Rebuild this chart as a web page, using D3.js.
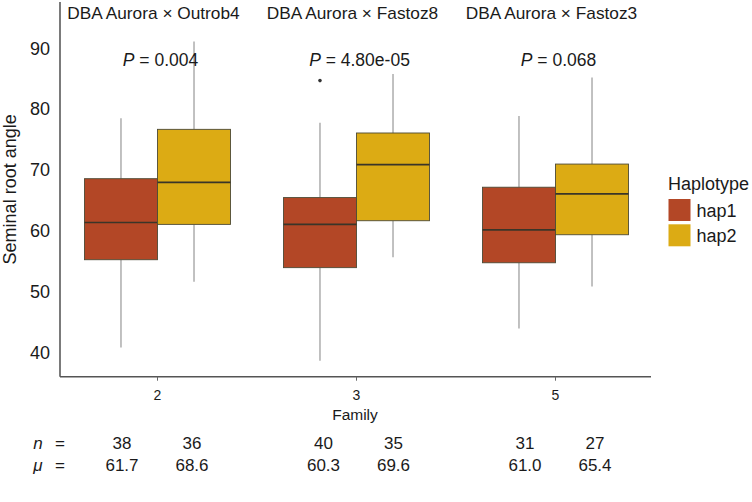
<!DOCTYPE html>
<html><head><meta charset="utf-8">
<script src="https://cdn.jsdelivr.net/npm/d3@7"></script>
<style>body{margin:0;background:#fff}svg{font-family:"Liberation Sans",Arial,sans-serif}</style>
</head><body><svg id="c" width="752" height="502"></svg>
<script>
const families = ["2","3","5"];
const crosses = ["DBA Aurora × Outrob4","DBA Aurora × Fastoz8","DBA Aurora × Fastoz3"];
const pvalues = ["0.004","4.80e-05","0.068"];
const haplotypes = ["hap1","hap2"];
// [whiskerLow, q1, median, q3, whiskerHigh] per family, per haplotype
const hap1Stats = [[40.9,55.3,61.4,68.6,78.5],[38.7,54.0,61.1,65.5,77.8],[44.0,54.8,60.2,67.2,78.9]];
const hap2Stats = [[51.7,61.1,68.0,76.7,91.1],[55.7,61.7,70.9,76.1,85.8],[50.9,59.4,66.1,71.0,85.2]];
const outliers = [{fam:"3",hap:"hap1",v:84.7}];
const nValues = [[38,36],[40,35],[31,27]];
const muValues = [["61.7","68.6"],["60.3","69.6"],["61.0","65.4"]];
const yTicks = [40,50,60,70,80,90];
const colors = {hap1:"#B34726", hap2:"#DCAB14"};

const svg = d3.select("#c");
const y = d3.scaleLinear().domain([36.1,97.6]).range([376.7,2]);
const x = d3.scaleBand().domain(families).range([58,655]).padding(0);
const bw = x.bandwidth();
const xi = d3.scaleBand().domain(haplotypes).range([-bw*0.367, bw*0.367]);
const stroke = "#4d4a35";
const ink = "#1a1a1a";

// axes
svg.append("line").attr("x1",60).attr("x2",60).attr("y1",y.range()[1]).attr("y2",y.range()[0]).attr("stroke","#333").attr("stroke-width",1.3);
svg.append("line").attr("x1",60).attr("x2",651).attr("y1",y.range()[0]).attr("y2",y.range()[0]).attr("stroke","#555").attr("stroke-width",1.5);
const ya = svg.append("g").attr("transform","translate(60,0)").call(d3.axisLeft(y).tickValues(yTicks).tickSize(0).tickPadding(10));
ya.select(".domain").remove();
ya.selectAll("text").attr("font-size",18).attr("fill",ink).attr("font-family","Liberation Sans, Arial, sans-serif");
const xa = svg.append("g").attr("transform",`translate(0,${y.range()[0]})`).call(d3.axisBottom(x).tickSize(4).tickPadding(9));
xa.select(".domain").remove();
xa.selectAll("line").attr("stroke","#666");
xa.selectAll("text").attr("font-size",14).attr("fill",ink).attr("font-family","Liberation Sans, Arial, sans-serif");

svg.append("text").attr("transform",`translate(16,${(y.range()[0]+y.range()[1])/2}) rotate(-90)`).attr("text-anchor","middle").attr("font-size",18).attr("fill",ink).text("Seminal root angle");
svg.append("text").attr("x",355).attr("y",420).attr("text-anchor","middle").attr("font-size",15.5).attr("fill",ink).text("Family");

// boxes
const rows = [];
families.forEach((f,i)=>{
  rows.push({fam:f,hap:"hap1",s:hap1Stats[i]});
  rows.push({fam:f,hap:"hap2",s:hap2Stats[i]});
});
const g = svg.append("g");
rows.forEach(r=>{
  const cx = x(r.fam)+bw/2+xi(r.hap)+xi.bandwidth()/2;
  const x0 = x(r.fam)+bw/2+xi(r.hap);
  const [lo,q1,md,q3,hi] = r.s;
  g.append("line").attr("x1",cx).attr("x2",cx).attr("y1",y(hi)).attr("y2",y(q3)).attr("stroke","#a0a0a0").attr("stroke-width",1.3);
  g.append("line").attr("x1",cx).attr("x2",cx).attr("y1",y(q1)).attr("y2",y(lo)).attr("stroke","#a0a0a0").attr("stroke-width",1.3);
  g.append("rect").attr("x",x0).attr("y",y(q3)).attr("width",xi.bandwidth()).attr("height",y(q1)-y(q3)).attr("fill",colors[r.hap]).attr("stroke",stroke).attr("stroke-width",0.9);
  g.append("line").attr("x1",x0).attr("x2",x0+xi.bandwidth()).attr("y1",y(md)).attr("y2",y(md)).attr("stroke","#3a3528").attr("stroke-width",1.6);
});
outliers.forEach(o=>{
  const cx = x(o.fam)+bw/2+xi(o.hap)+xi.bandwidth()/2;
  g.append("circle").attr("cx",cx).attr("cy",y(o.v)).attr("r",1.8).attr("fill","#333");
});

// facet titles and p-values
families.forEach((f,i)=>{
  const cx = x(f)+bw/2;
  svg.append("g").attr("transform",`translate(${cx-4},19) scale(1.08,1)`)
    .append("text").attr("text-anchor","middle").attr("font-size",16).attr("fill",ink).text(crosses[i]);
  const t = svg.append("text").attr("x",cx+3).attr("y",66).attr("text-anchor","middle").attr("font-size",17.5).attr("fill",ink);
  t.append("tspan").attr("font-style","italic").text("P");
  t.append("tspan").text(" = "+pvalues[i]);
});

// table
const tx = d3.scalePoint().domain(families).range([157,560]);
const ti = d3.scalePoint().domain(haplotypes).range([-35,35]);
const nY = 449, mY = 471, tfs = 17;
[["n",nY],["μ",mY]].forEach(([lab,yy])=>{
  svg.append("text").attr("x",38).attr("y",yy).attr("text-anchor","middle").attr("font-size",tfs).attr("font-style","italic").attr("fill",ink).text(lab);
  svg.append("text").attr("x",60).attr("y",yy).attr("text-anchor","middle").attr("font-size",tfs).attr("fill",ink).text("=");
});
families.forEach((f,i)=>{
  haplotypes.forEach((h,j)=>{
    svg.append("text").attr("x",tx(f)+ti(h)).attr("y",nY).attr("text-anchor","middle").attr("font-size",tfs).attr("fill",ink).text(nValues[i][j]);
    svg.append("text").attr("x",tx(f)+ti(h)).attr("y",mY).attr("text-anchor","middle").attr("font-size",tfs).attr("fill",ink).text(muValues[i][j]);
  });
});

// legend
const lg = svg.append("g").attr("transform","translate(668,0)");
lg.append("text").attr("x",0).attr("y",190).attr("font-size",18).attr("fill",ink).text("Haplotype");
haplotypes.forEach((h,j)=>{
  lg.append("rect").attr("x",0.5).attr("y",199+j*25.3).attr("width",22).attr("height",22).attr("fill",colors[h]);
  lg.append("text").attr("x",28.5).attr("y",217+j*25.3).attr("font-size",18).attr("fill",ink).text(h);
});
</script></body></html>
